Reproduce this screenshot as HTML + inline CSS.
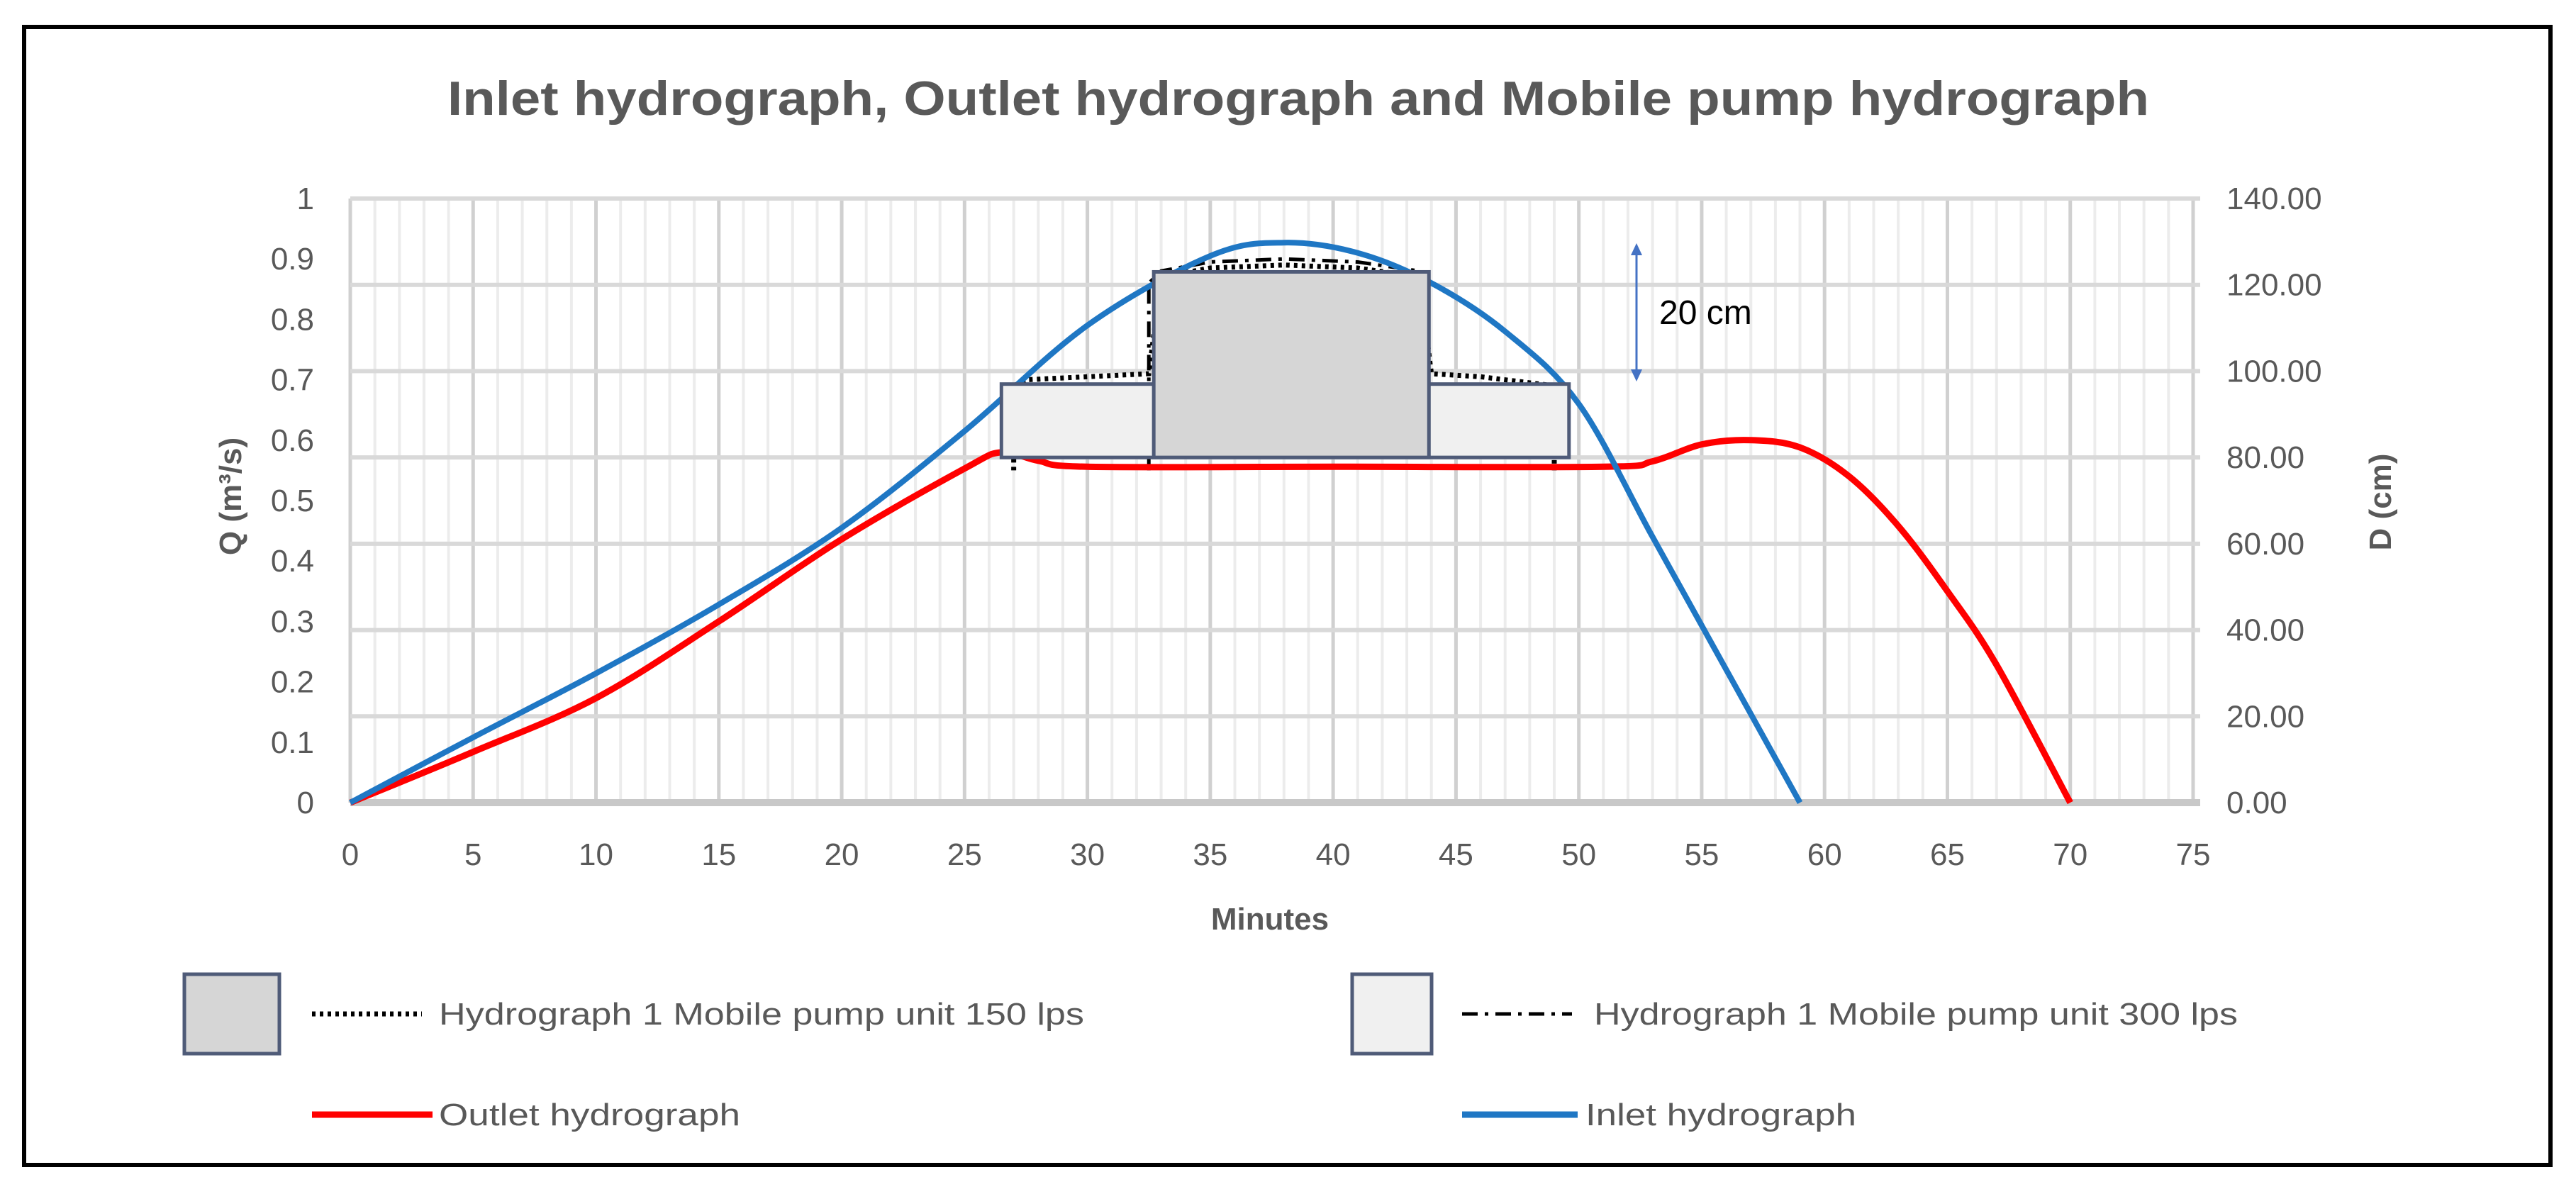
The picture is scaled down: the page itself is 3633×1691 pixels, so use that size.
<!DOCTYPE html>
<html><head><meta charset="utf-8"><style>
html,body{margin:0;padding:0;background:#fff;}
svg{display:block;}
text{font-family:"Liberation Sans",sans-serif;}
</style></head><body>
<svg id="chart" width="3633" height="1691" viewBox="0 0 3633 1691" xmlns="http://www.w3.org/2000/svg">
<rect x="34" y="38" width="3563" height="1605" fill="#fff" stroke="#000" stroke-width="6"/>
<text x="1831" y="162" text-anchor="middle" font-size="68" font-weight="bold" fill="#595959" textLength="2400" lengthAdjust="spacingAndGlyphs">Inlet hydrograph, Outlet hydrograph and Mobile pump hydrograph</text>
<g id="grid"></g>
<g id="axes"></g>
<g id="series"></g>
<g id="boxes"></g>
<g>
<line x1="2308" y1="355" x2="2308" y2="526" stroke="#4472c4" stroke-width="3"/>
<polygon points="2308,343 2300,360 2316,360" fill="#4472c4"/>
<polygon points="2308,538 2300,521 2316,521" fill="#4472c4"/>
<text x="2340" y="457" font-size="48" fill="#000">20 cm</text>
</g>
<text x="1791" y="1311" text-anchor="middle" font-size="44" font-weight="bold" fill="#595959">Minutes</text>
<text transform="translate(340,700) rotate(-90)" text-anchor="middle" font-size="44" font-weight="bold" fill="#595959">Q (m³/s)</text>
<text transform="translate(3372,708) rotate(-90)" text-anchor="middle" font-size="44" font-weight="bold" fill="#595959">D (cm)</text>
<g>
<g>
<rect x="260" y="1374" width="134" height="112" fill="#d6d6d6" stroke="#4f5b78" stroke-width="5"/>
<line x1="440" y1="1430" x2="595" y2="1430" stroke="#000" stroke-width="7" stroke-dasharray="5,6"/>
<text x="619" y="1445" font-size="44" fill="#595959" textLength="910" lengthAdjust="spacingAndGlyphs">Hydrograph 1 Mobile pump unit 150 lps</text>
</g>
<g>
<rect x="1907" y="1374" width="112" height="112" fill="#f0f0f0" stroke="#4f5b78" stroke-width="5"/>
<line x1="2062" y1="1430" x2="2217" y2="1430" stroke="#000" stroke-width="5" stroke-dasharray="22,10,5,10"/>
<text x="2248" y="1445" font-size="44" fill="#595959" textLength="908" lengthAdjust="spacingAndGlyphs">Hydrograph 1 Mobile pump unit 300 lps</text>
</g>
<g>
<line x1="440" y1="1572" x2="610" y2="1572" stroke="#ff0000" stroke-width="9"/>
<text x="619" y="1587" font-size="44" fill="#595959" textLength="425" lengthAdjust="spacingAndGlyphs">Outlet hydrograph</text>
</g>
<g>
<line x1="2062" y1="1572" x2="2225" y2="1572" stroke="#1f77c4" stroke-width="9"/>
<text x="2236" y="1587" font-size="44" fill="#595959" textLength="382" lengthAdjust="spacingAndGlyphs">Inlet hydrograph</text>
</g>
</g>
</svg>
<script>
const xTicks=[0,5,10,15,20,25,30,35,40,45,50,55,60,65,70,75];
const qTicks=[0,0.1,0.2,0.3,0.4,0.5,0.6,0.7,0.8,0.9,1];
const qTickLabels=["0","0.1","0.2","0.3","0.4","0.5","0.6","0.7","0.8","0.9","1"];
const dTicks=[0,20,40,60,80,100,120,140];
const dTickLabels=["0.00","20.00","40.00","60.00","80.00","100.00","120.00","140.00"];
const inletT=[0,5,10,15,20,25,30,35,38,41,44,47,50,53,56,59];
const inletQ=[0,0.108,0.214,0.328,0.455,0.615,0.79,0.905,0.927,0.91,0.86,0.78,0.66,0.44,0.22,0];
const outletT=[0,5,10,15,20,25,26.5,28,30,40,51,53,55,57,59,61,63,65,67,70];
const outletQ=[0,0.084,0.173,0.30,0.436,0.553,0.58,0.566,0.556,0.556,0.556,0.565,0.593,0.60,0.588,0.54,0.458,0.35,0.228,0];
const pump150T=[27,27,27.5,30,32.5,33,35,38,41,43.5,44,46,49,49];
const pump150Q=[0.55,0.69,0.70,0.705,0.71,0.87,0.885,0.89,0.885,0.87,0.71,0.705,0.69,0.55];
const pump300T=[32.5,32.5,33,35,38,41,43.5,43.5];
const pump300Q=[0.55,0.86,0.88,0.895,0.9,0.895,0.88,0.6];
const boxLightT=[26.5,49.6]; const boxLightD=[80,97];
const boxDarkT=[32.7,43.9]; const boxDarkD=[80,123];

const X0=494,X1=3093,Y0=1132,Y1=280;
const xs=t=>X0+(X1-X0)*t/75;
const yq=q=>Y0-(Y0-Y1)*q;
const yd=d=>Y0-(Y0-Y1)*d/140;
const NS="http://www.w3.org/2000/svg";
function mk(tag,attrs,parent){const e=document.createElementNS(NS,tag);for(const k in attrs)e.setAttribute(k,attrs[k]);parent.appendChild(e);return e;}
const grid=document.getElementById('grid'),axes=document.getElementById('axes'),series=document.getElementById('series'),boxes=document.getElementById('boxes');
for(let m=0;m<=75;m++){
  const l=mk('line',{x1:xs(m),x2:xs(m),y1:Y1,y2:Y0,stroke:m%5===0?'#d0d0d0':'#ececec','stroke-width':m%5===0?5:4},grid);
  
  
}
dTicks.forEach((d,i)=>{
  const l=mk('line',{x1:X0,x2:X1+10,y1:yd(d),y2:yd(d),stroke:d===0?'#c8c8c8':'#d9d9d9','stroke-width':d===0?10:6},grid);
  
  
  const t=mk('text',{x:3140,y:yd(d)+15,'font-size':44,fill:'#595959'},axes);t.textContent=dTickLabels[i];
  
  
});
qTicks.forEach((q,i)=>{
  const t=mk('text',{x:443,y:yq(q)+15,'font-size':44,fill:'#595959','text-anchor':'end'},axes);t.textContent=qTickLabels[i];
  
  
});
xTicks.forEach(v=>{
  const t=mk('text',{x:xs(v),y:1220,'font-size':44,fill:'#595959','text-anchor':'middle'},axes);t.textContent=String(v);
  
  
});
function smooth(T,Q){
  const p=T.map((t,i)=>[xs(t),yq(Q[i])]);
  let d='M'+p[0][0]+','+p[0][1];
  for(let i=0;i<p.length-1;i++){
    const a=p[i-1]||p[i],b=p[i],c=p[i+1],e=p[i+2]||c;
    d+=' C'+(b[0]+(c[0]-a[0])/6)+','+(b[1]+(c[1]-a[1])/6)+' '+(c[0]-(e[0]-b[0])/6)+','+(c[1]-(e[1]-b[1])/6)+' '+c[0]+','+c[1];
  }
  return d;
}
function poly(T,Q){return T.map((t,i)=>(i?'L':'M')+xs(t)+','+yq(Q[i])).join(' ');}
const p150=mk('path',{d:poly(pump150T,pump150Q),fill:'none',stroke:'#000','stroke-width':7,'stroke-dasharray':'5,6'},series);


const p300=mk('path',{d:poly(pump300T,pump300Q),fill:'none',stroke:'#000','stroke-width':5,'stroke-dasharray':'22,10,5,10'},series);


const out=mk('path',{d:smooth(outletT,outletQ),fill:'none',stroke:'#ff0000','stroke-width':9},series);


const inl=mk('path',{d:smooth(inletT,inletQ),fill:'none',stroke:'#1f77c4','stroke-width':8},series);


const bl=mk('rect',{x:xs(boxLightT[0]),y:yd(boxLightD[1]),width:xs(boxLightT[1])-xs(boxLightT[0]),height:yd(boxLightD[0])-yd(boxLightD[1]),fill:'#f0f0f0',stroke:'#4f5b78','stroke-width':5},boxes);


const bd=mk('rect',{x:xs(boxDarkT[0]),y:yd(boxDarkD[1]),width:xs(boxDarkT[1])-xs(boxDarkT[0]),height:yd(boxDarkD[0])-yd(boxDarkD[1]),fill:'#d6d6d6',stroke:'#4f5b78','stroke-width':5},boxes);


</script>
</body></html>
